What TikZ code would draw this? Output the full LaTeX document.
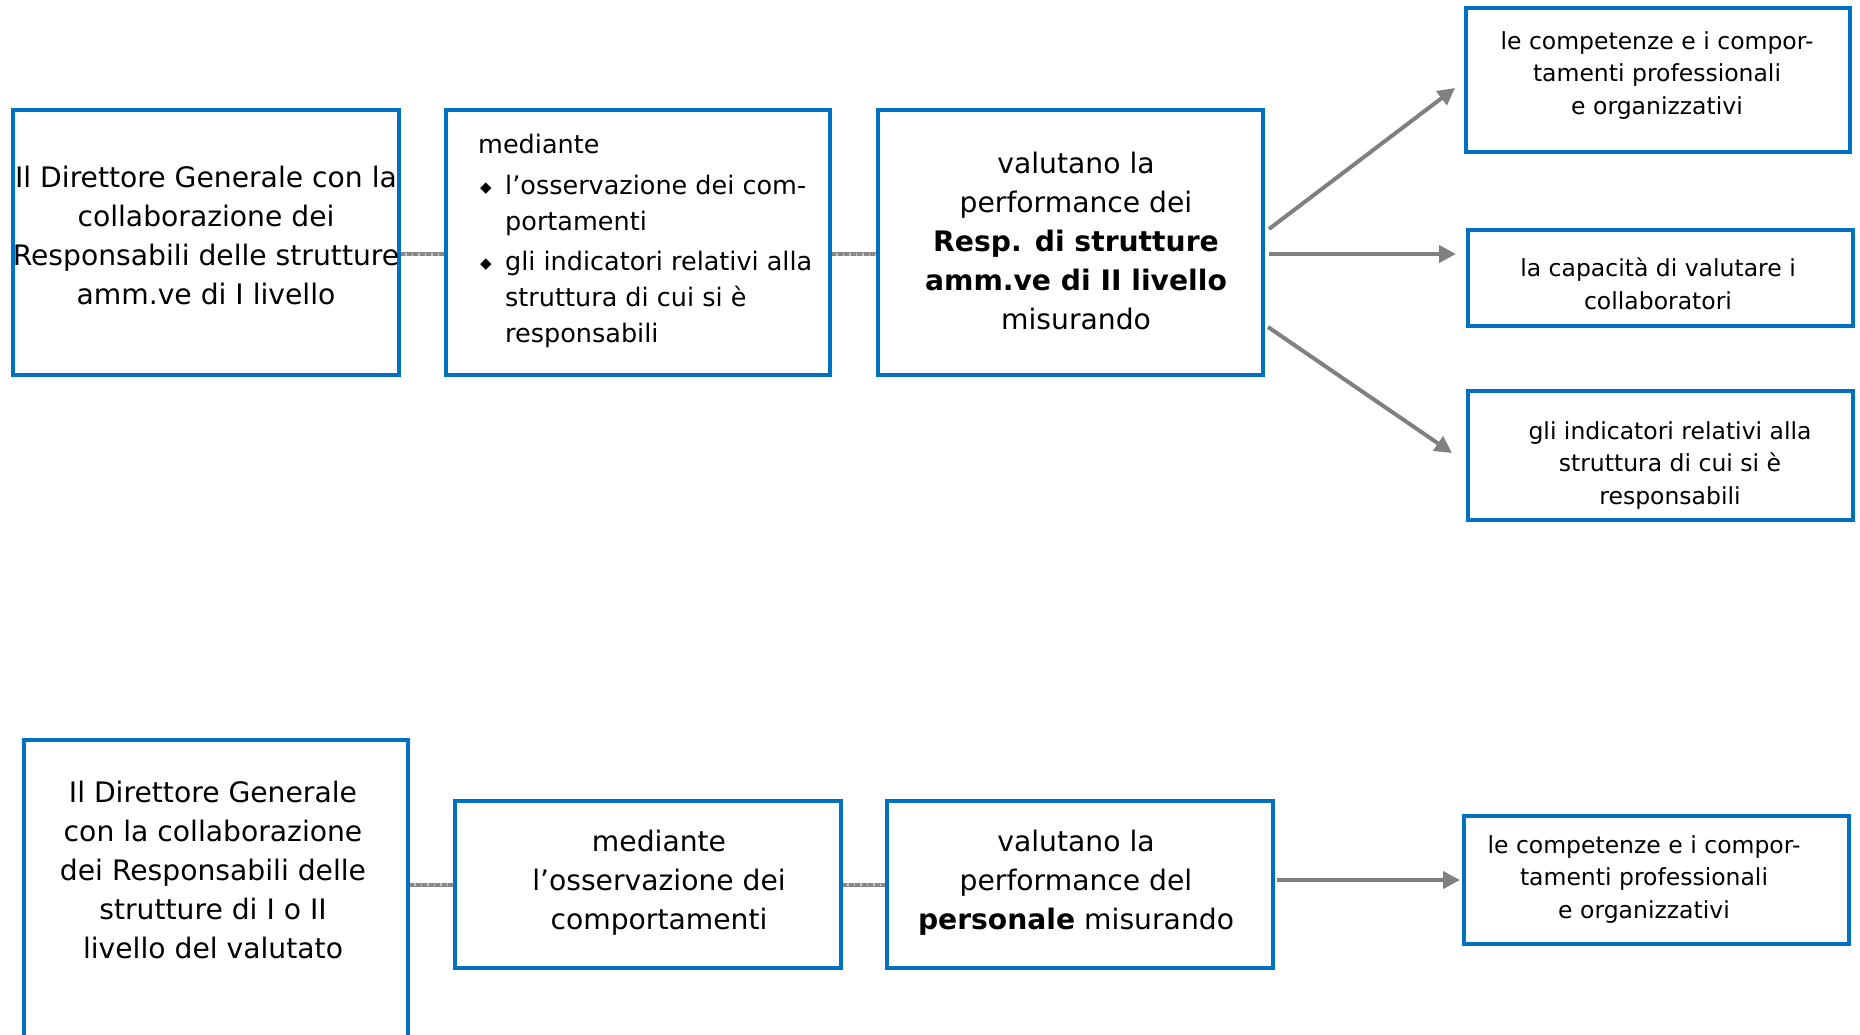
\documentclass[tikz,border=0pt]{standalone}
\usepackage{fontspec}
\setmainfont{DejaVu Sans}
\usetikzlibrary{arrows.meta}
\definecolor{boxblue}{HTML}{0070C0}
\definecolor{linkgray}{HTML}{808080}
\definecolor{dashgray}{HTML}{888888}
\definecolor{dashlight}{HTML}{C4C4C4}

\begin{document}
\begin{tikzpicture}[x=1pt,y=-1pt,
  box/.style={draw=boxblue,line width=4pt,inner sep=0pt,fill=white},
  bigtxt/.style={inner sep=0pt,align=center,font=\fontsize{28.2}{39}\selectfont},
  midtxt/.style={inner sep=0pt,align=left,font=\fontsize{25.5}{36}\selectfont},
  smalltxt/.style={inner sep=0pt,align=center,font=\fontsize{23.5}{32.5}\selectfont},
  link/.style={draw=dashgray,line width=4pt,
    postaction={draw=dashlight,line width=3pt,dash pattern=on 1.5pt off 5pt,dash phase=-4pt}},
  arr/.style={draw=linkgray,line width=4pt,-{Triangle[length=17pt,width=17pt]}}]
\useasboundingbox (0,0) rectangle (1860,1034);
\clip (0,0) rectangle (1860,1034);

% upper chain
\node[box,minimum width=386pt,minimum height=265pt] (A) at (206,242.5) {};
\node[box,minimum width=384pt,minimum height=265pt] (B) at (638,242.5) {};
\node[box,minimum width=385pt,minimum height=265pt] (C) at (1070.5,242.5) {};
\node[box,minimum width=384pt,minimum height=144pt] (R1) at (1658,80) {};
\node[box,minimum width=385pt,minimum height=96pt] (R2) at (1660.5,278) {};
\node[box,minimum width=385pt,minimum height=129pt] (R3) at (1660.5,455.5) {};

% lower chain
\node[box,minimum width=384pt,minimum height=310pt] (D) at (216,895) {};
\node[box,minimum width=386pt,minimum height=167pt] (E) at (648,884.5) {};
\node[box,minimum width=386pt,minimum height=167pt] (F) at (1080,884.5) {};
\node[box,minimum width=385pt,minimum height=128pt] (R4) at (1656.5,880) {};

% texts
\node[bigtxt] (tA) at (206,235) {Il Direttore Generale con la\\collaborazione dei\\Responsabili delle strutture\\amm.ve di I livello};
\node[midtxt,anchor=west] (tB) at (478,241) {mediante\\[5pt]
\makebox[27pt][l]{\hspace*{2pt}\raisebox{2pt}{\fontsize{15}{15}\selectfont ◆}}l’osservazione dei com-\\
\hspace*{27pt}portamenti\\[4pt]
\makebox[27pt][l]{\hspace*{2pt}\raisebox{2pt}{\fontsize{15}{15}\selectfont ◆}}gli indicatori relativi alla\\
\hspace*{27pt}struttura di cui si è\\
\hspace*{27pt}responsabili};
\node[bigtxt] (tC) at (1076,240.5) {valutano la\\performance dei\\\textbf{Resp. di strutture}\\\textbf{amm.ve di II livello}\\misurando};
\node[smalltxt] (tR1) at (1657,75.5) {le competenze e i compor-\\tamenti professionali\\e organizzativi};
\node[smalltxt] (tR2) at (1658,284) {la capacità di valutare i\\collaboratori};
\node[smalltxt] (tR3) at (1670,465.5) {gli indicatori relativi alla\\struttura di cui si è\\responsabili};

\node[bigtxt] (tD) at (213,869.5) {Il Direttore Generale\\con la collaborazione\\dei Responsabili delle\\strutture di I o II\\livello del valutato};
\node[bigtxt] (tE) at (659,882.5) {mediante\\l’osservazione dei\\comportamenti};
\node[bigtxt] (tF) at (1076,882.5) {valutano la\\performance del\\\textbf{personale} misurando};
\node[smalltxt] (tR4) at (1644,879.5) {le competenze e i compor-\\tamenti professionali\\e organizzativi};

% connectors, upper chain
\draw[link] ([yshift=-11.5pt]A.east) -- ([yshift=-11.5pt]B.west);
\draw[link] ([yshift=-11.5pt]B.east) -- ([yshift=-11.5pt]C.west);
\draw[arr] ([xshift=4pt,yshift=13.5pt]C.east) -- ([xshift=-9pt,yshift=-8pt]R1.west);
\draw[arr] ([xshift=4pt,yshift=-11.5pt]C.east) -- ([xshift=-10pt,yshift=24pt]R2.west);
\draw[arr] ([xshift=3pt,yshift=-84.5pt]C.east) -- ([xshift=-14pt,yshift=2.5pt]R3.west);

% connectors, lower chain
\draw[link] (D.east |- E.west) -- (E.west);
\draw[link] (E.east) -- (F.west);
\draw[arr] ([xshift=2pt,yshift=4.5pt]F.east) -- ([xshift=-2pt]R4.west);
\end{tikzpicture}
\end{document}
